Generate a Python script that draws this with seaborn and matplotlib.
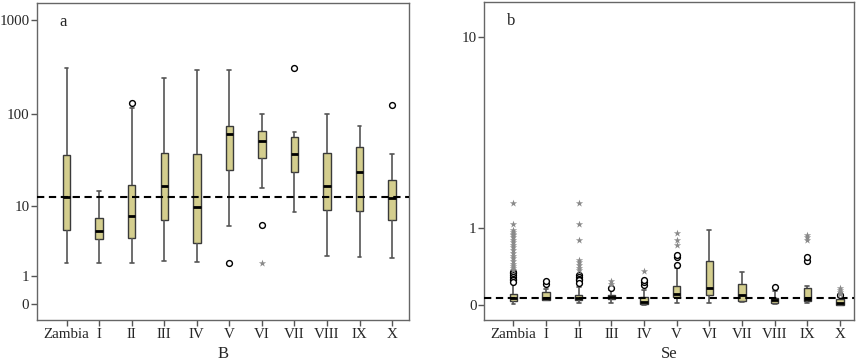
import numpy as np
import pandas as pd
import matplotlib
matplotlib.use("Agg")
import matplotlib.pyplot as plt
import seaborn as sns

# ---------------- data ----------------
cats = ["Zambia", "I", "II", "III", "IV", "V", "VI", "VII", "VIII", "IX", "X"]

# Panel a : B
b_low = [1.75, 1.75, 1.75, 1.86, 1.8, 5.75, 15.7, 8.5, 2.23, 2.13, 2.08]
b_q1 = [5.1, 3.85, 4.05, 6.7, 3.47, 25.2, 34.0, 23.7, 8.8, 8.66, 6.7]
b_med = [12.7, 4.9, 7.6, 16.7, 9.7, 61.7, 52.3, 37.9, 16.7, 23.7, 12.2]
b_q3 = [36.4, 7.1, 17.3, 38.2, 37.3, 75.7, 66.9, 56.8, 38.2, 44.7, 19.4]
b_high = [310, 14.7, 117, 243, 298, 298, 101.8, 64.8, 100, 75.2, 37.9]
b_circ_cat = ["II", "V", "VI", "VII", "X"]
b_circ_val = [132, 1.75, 5.8, 313, 127]
b_star_cat = ["VI"]
b_star_val = [1.73]
b_ref = 12.7

# Panel b : Se
se_low = [0.012, 0.05, 0.018, 0.018, 0.005, 0.024, 0.024, 0.03, 0.012, 0.018, 0.0]
se_q1 = [0.039, 0.053, 0.048, 0.058, 0.009, 0.074, 0.094, 0.039, 0.018, 0.039, 0.003]
se_med = [0.070, 0.067, 0.065, 0.080, 0.033, 0.11, 0.167, 0.097, 0.048, 0.06, 0.025]
se_q3 = [0.104, 0.129, 0.10, 0.094, 0.074, 0.192, 0.483, 0.207, 0.07, 0.165, 0.055]
se_high = [0.207, 0.16, 0.181, 0.142, 0.145, 0.40, 0.962, 0.347, 0.14, 0.188, 0.08]
se_circ_cat = (["Zambia"] * 7 + ["I"] * 2 + ["II"] * 5 + ["III"] + ["IV"] * 3
               + ["V"] * 3 + ["VIII"] + ["IX"] * 2 + ["X"])
se_circ_val = [0.35, 0.33, 0.31, 0.29, 0.27, 0.25, 0.23,
               0.21, 0.245,
               0.31, 0.29, 0.27, 0.25, 0.22,
               0.164,
               0.20, 0.227, 0.254,
               0.43, 0.545, 0.569,
               0.181,
               0.49, 0.545,
               0.094]
se_star_cat = (["Zambia"] * 20 + ["II"] * 8 + ["III"] * 2 + ["IV"] + ["V"] * 3
               + ["IX"] * 3 + ["X"] * 4)
se_star_val = [1.50, 1.065, 0.96, 0.93, 0.90, 0.87, 0.84, 0.80, 0.76, 0.72,
               0.68, 0.64, 0.60, 0.56, 0.52, 0.48, 0.45, 0.42, 0.39, 0.37,
               1.50, 1.065, 0.79, 0.50, 0.47, 0.43, 0.40, 0.37,
               0.207, 0.246,
               0.36,
               0.91, 0.79, 0.71,
               0.88, 0.84, 0.80,
               0.11, 0.13, 0.15, 0.17]
se_ref = 0.065

# ---------------- style ----------------
sns.set_style("white")
plt.rcParams["font.family"] = ["Liberation Serif", "DejaVu Serif"]
plt.rcParams["font.size"] = 11

BOX_FILL = "#D4CE8E"
EDGE = "#3a3a3a"


def fwd(x):
    return np.log10(np.clip(x, -0.999, None) + 1)


def inv(y):
    return 10 ** y - 1


def box_frame(low, q1, med, q3, high):
    rows = []
    for c, a, b, m, d, e in zip(cats, low, q1, med, q3, high):
        for v in (a, b, m, d, e):
            rows.append((c, v))
    return pd.DataFrame(rows, columns=["cat", "val"])


def draw_panel(ax, low, q1, med, q3, high, ccat, cval, scat, sval, ref,
               yticks, ylim, xlim, xlabel, letter):
    df = box_frame(low, q1, med, q3, high)
    sns.boxplot(data=df, x="cat", y="val", order=cats, ax=ax, whis=np.inf,
                width=0.23, color=BOX_FILL, saturation=1, linewidth=1.0,
                showfliers=False,
                boxprops=dict(facecolor=BOX_FILL, edgecolor=EDGE),
                whiskerprops=dict(color="#555555", linewidth=1.2),
                capprops=dict(color="#555555", linewidth=1.2),
                medianprops=dict(color="black", linewidth=2.0))
    dfc = pd.DataFrame({"cat": ccat, "val": cval})
    sns.stripplot(data=dfc, x="cat", y="val", order=cats, ax=ax, jitter=False,
                  marker="o", size=4.2, color="white", edgecolor="black",
                  linewidth=1.0, zorder=5)
    dfs = pd.DataFrame({"cat": scat, "val": sval})
    sns.stripplot(data=dfs, x="cat", y="val", order=cats, ax=ax, jitter=False,
                  marker="*", size=5.5, color="#8a8a8a", linewidth=0, zorder=5)
    ax.axhline(ref, color="black", linestyle=(0, (3.5, 2.2)), linewidth=1.5,
               zorder=4)
    ax.set_yscale("function", functions=(fwd, inv))
    ax.set_ylim(*ylim)
    ax.set_xlim(*xlim)
    ax.set_yticks(yticks)
    ax.set_yticklabels([str(t) for t in yticks])
    ax.set_xticks(range(len(cats)))
    ax.set_xticklabels(cats)
    ax.set_xlabel(xlabel, fontsize=12, labelpad=4)
    ax.set_ylabel("")
    ax.minorticks_off()
    ax.tick_params(axis="both", which="major", direction="out", length=4,
                   width=1, color="#555555", labelsize=10.8, pad=1.5,
                   bottom=True, left=True, top=False, right=False)
    for sp in ax.spines.values():
        sp.set_visible(True)
        sp.set_color("#666666")
        sp.set_linewidth(1.0)
    ax.text(0.06, 0.94, letter, transform=ax.transAxes, fontsize=12,
            ha="left", va="center")


fig = plt.figure(figsize=(8.58, 3.64), dpi=100)
ax1 = fig.add_axes([0.0431, 0.121, 0.4336, 0.870])
ax2 = fig.add_axes([0.5645, 0.121, 0.4312, 0.874])

draw_panel(ax1, b_low, b_q1, b_med, b_q3, b_high, b_circ_cat, b_circ_val,
           b_star_cat, b_star_val, b_ref, [0, 1, 10, 100, 1000],
           (-0.317, 1502), (-0.91, 10.52), "B", "a")
draw_panel(ax2, se_low, se_q1, se_med, se_q3, se_high, se_circ_cat, se_circ_val,
           se_star_cat, se_star_val, se_ref, [0, 1, 10],
           (-0.123, 14.1), (-0.89, 10.44), "Se", "b")

fig.savefig("out.png", dpi=100)
